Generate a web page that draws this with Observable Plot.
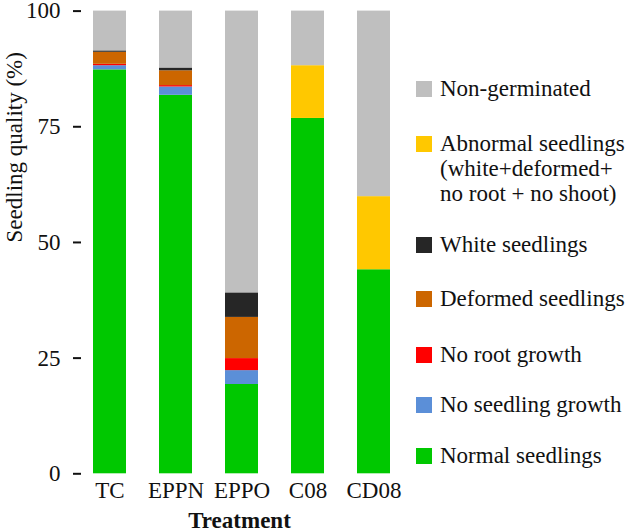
<!DOCTYPE html>
<html>
<head>
<meta charset="utf-8">
<script src="https://cdn.jsdelivr.net/npm/d3@7"></script>
<script src="https://cdn.jsdelivr.net/npm/@observablehq/plot@0.6"></script>
<style>
  html, body { margin: 0; padding: 0; background: #fff; }
  #wrap { position: relative; width: 630px; height: 532px; color: #111; }
  #wrap svg { overflow: visible; }
  #legend { position: absolute; left: 0; top: 0; }
  .item { position: absolute; left: 416px; font-size: 23px; line-height: 25px; white-space: nowrap; }
  .sw { position: absolute; left: 0; top: 5px; width: 16px; height: 16px; }
  .lbl { position: absolute; left: 24px; top: 0; }
</style>
</head>
<body>
<div id="wrap"><div id="legend"></div></div>
<script>
const treatments = ["TC", "EPPN", "EPPO", "C08", "CD08"];
const normalSeedlings = [87.3, 81.8, 19.3, 76.8, 44.1];
const noSeedlingGrowth = [0.9, 1.8, 3.0, 0, 0];
const noRootGrowth = [0.3, 0.3, 2.6, 0, 0];
const deformedSeedlings = [2.6, 3.2, 8.9, 0, 0];
const whiteSeedlings = [0.3, 0.6, 5.3, 0, 0];
const abnormalSeedlings = [0, 0, 0, 11.4, 15.8];
const nonGerminated = [8.6, 12.3, 60.9, 11.8, 40.1];
const yTicks = [0, 25, 50, 75, 100];

// bottom to top stacking order
const categories = ["Normal seedlings", "No seedling growth", "No root growth", "Deformed seedlings", "White seedlings", "Abnormal seedlings", "Non-germinated"];
const colors = ["#00c800", "#5b8fd8", "#ff0000", "#cc6600", "#262626", "#ffc800", "#bfbfbf"];
const seriesValues = [normalSeedlings, noSeedlingGrowth, noRootGrowth, deformedSeedlings, whiteSeedlings, abnormalSeedlings, nonGerminated];

const data = [];
categories.forEach((c, i) => treatments.forEach((t, j) => data.push({treatment: t, category: c, value: seriesValues[i][j]})));

const FONT = "'Liberation Serif', 'Tinos', 'Times New Roman'";
const wrap = document.getElementById("wrap");

const chart = Plot.plot({
  width: 630,
  height: 532,
  marginLeft: 73,
  marginRight: 225,
  marginTop: 10.6,
  marginBottom: 58.7,
  style: {fontFamily: FONT, fontSize: "23px", color: "#111", background: "white", overflow: "visible"},
  x: {domain: treatments, range: [73, 409], paddingInner: 0.5, paddingOuter: 0.27},
  y: {domain: [0, 100]},
  color: {domain: categories, range: colors},
  marks: [
    Plot.barY(data, {x: "treatment", y: "value", fill: "category"}),
    Plot.axisY({ticks: yTicks, tickSize: -8, tickPadding: 21, line: true, strokeWidth: 2, label: null, fontSize: 23}),
    Plot.axisX({tickSize: 0, tickPadding: 8, line: true, strokeWidth: 2, label: null, fontSize: 23}),
    Plot.text(["Seedling quality (%)"], {frameAnchor: "left", dx: -59, rotate: -90, fontSize: 23, lineAnchor: "middle"}),
    Plot.text(["Treatment"], {frameAnchor: "bottom", dy: 47, fontSize: 23, fontWeight: "bold", lineAnchor: "middle"})
  ]
});
wrap.prepend(chart);

const legendOrder = ["Non-germinated", "Abnormal seedlings", "White seedlings", "Deformed seedlings", "No root growth", "No seedling growth", "Normal seedlings"];
const legendTexts = {"Abnormal seedlings": ["Abnormal seedlings", "(white+deformed+", "no root + no shoot)"]};
const legendTops = [76, 131, 232, 286, 342, 392, 443];
const legend = document.getElementById("legend");
legendOrder.forEach((c, i) => {
  const item = document.createElement("div");
  item.className = "item";
  item.style.top = legendTops[i] + "px";
  const sw = document.createElement("div");
  sw.className = "sw";
  sw.style.background = colors[categories.indexOf(c)];
  const lbl = document.createElement("div");
  lbl.className = "lbl";
  lbl.innerHTML = (legendTexts[c] || [c]).join("<br>");
  item.appendChild(sw);
  item.appendChild(lbl);
  legend.appendChild(item);
});

document.querySelectorAll("#wrap, #wrap *").forEach(el => el.style.setProperty("font-family", FONT, "important"));
</script>
</body>
</html>
